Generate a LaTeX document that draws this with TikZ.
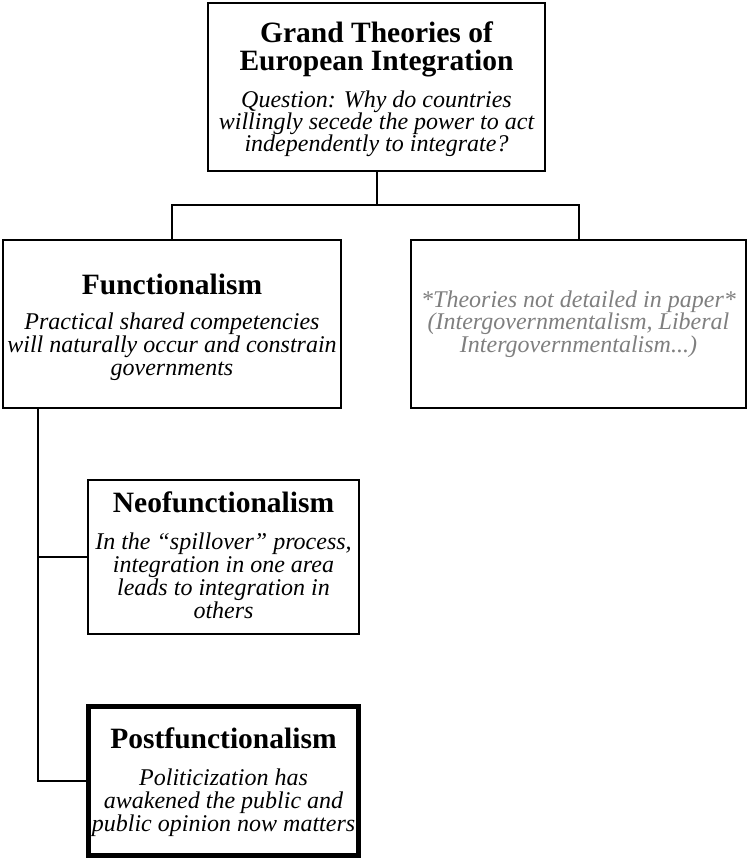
\documentclass[tikz,border=0pt]{standalone}
\usepackage{fontspec}
\setmainfont{Liberation Serif}
\definecolor{greytext}{HTML}{7F7F7F}
\begin{document}
\begin{tikzpicture}[x=1pt,y=-1pt,
  box/.style={draw=black,line width=2pt,rectangle,inner sep=0pt},
  heavybox/.style={draw=black,line width=4.5pt,rectangle,inner sep=0pt},
  ttl/.style={anchor=base,align=center,inner sep=0pt,font=\fontsize{29.5}{28}\selectfont\bfseries},
  body/.style={anchor=base,align=center,inner sep=0pt,font=\fontsize{24}{23}\selectfont\itshape},
  link/.style={draw=black,line width=2pt}]
\useasboundingbox (0,0) rectangle (749,860);
% boxes
\node[box,minimum width=337pt,minimum height=168pt] (top) at (376.5,87) {};
\node[box,minimum width=338pt,minimum height=168pt] (func) at (172,324) {};
\node[box,minimum width=335pt,minimum height=168pt] (oth) at (578.5,324) {};
\node[box,minimum width=271pt,minimum height=154pt] (neo) at (223.5,557) {};
\node[heavybox,minimum width=270pt,minimum height=149pt] (post) at (223.5,781) {};
% texts (anchor base = baseline of the last line)
\node[ttl] (topT) at (376.5,70) {Grand Theories of\\European Integration};
\node[body,font=\fontsize{24}{22}\selectfont\itshape] (topB) at (376.5,151) {Question: Why do countries\\willingly secede the power to act\\independently to integrate?};
\node[ttl] (funcT) at (172,294) {Functionalism};
\node[body] (funcB) at (172,375) {Practical shared competencies\\will naturally occur and constrain\\governments};
\node[body,text=greytext,font=\fontsize{24}{22.5}\selectfont\itshape] (othB) at (578.5,352) {*Theories not detailed in paper*\\(Intergovernmentalism, Liberal\\Intergovernmentalism...)};
\node[ttl] (neoT) at (223.5,512) {Neofunctionalism};
\node[body] (neoB) at (223.5,618) {In the “spillover” process,\\integration in one area\\leads to integration in\\others};
\node[ttl] (postT) at (223.5,748) {Postfunctionalism};
\node[body] (postB) at (223.5,831) {Politicization has\\awakened the public and\\public opinion now matters};
% connectors
\coordinate (j) at (376.5,205);
\coordinate (fs) at (38,408);
\draw[link] (top.south) -- (j);
\draw[link] (func.north) |- (j) -| (oth.north);
\draw[link] (fs) |- (neo.west);
\draw[link] (fs) |- (post.west);
\end{tikzpicture}
\end{document}
